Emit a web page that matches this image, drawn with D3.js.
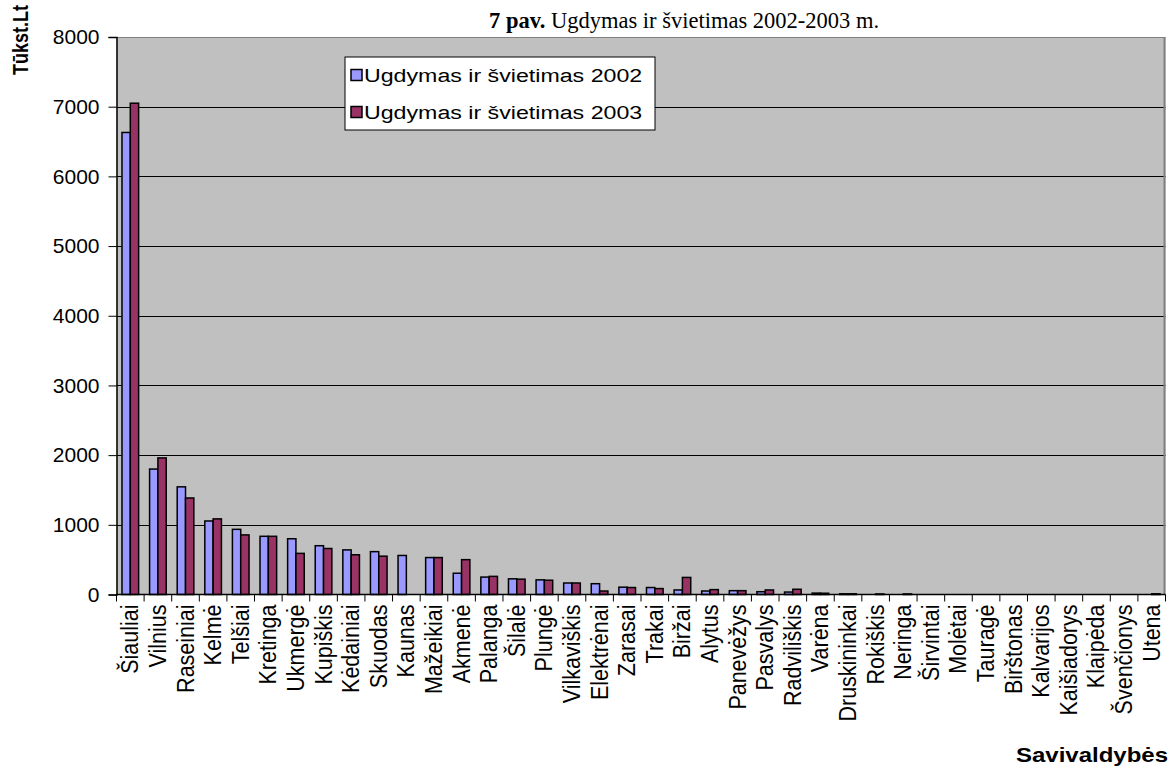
<!DOCTYPE html>
<html>
<head>
<meta charset="utf-8">
<script src="https://cdn.jsdelivr.net/npm/d3@7"></script>
<style>
  html, body { margin: 0; padding: 0; background: #fff; }
  svg { display: block; }
</style>
</head>
<body>
<svg id="chart" width="1176" height="770"></svg>
<script>
// Municipalities, in chart order
const categories = ["Šiauliai","Vilnius","Raseiniai","Kelmė","Telšiai","Kretinga","Ukmergė","Kupiškis","Kėdainiai","Skuodas","Kaunas","Mažeikiai","Akmenė","Palanga","Šilalė","Plungė","Vilkaviškis","Elektrėnai","Zarasai","Trakai","Biržai","Alytus","Panevėžys","Pasvalys","Radviliškis","Varėna","Druskininkai","Rokiškis","Neringa","Širvintai","Molėtai","Tauragė","Birštonas","Kalvarijos","Kaišiadorys","Klaipėda","Švenčionys","Utena"];

// Education spending, thousand Lt
const values2002 = [6630,1800,1545,1055,935,835,800,700,640,615,560,530,305,250,225,210,165,155,105,100,65,50,55,40,35,20,10,0,0,0,0,0,0,0,0,0,0,0];
const values2003 = [7050,1960,1385,1085,855,835,590,660,570,550,0,530,500,260,220,205,165,50,100,85,245,70,55,65,75,18,10,8,8,0,0,0,0,0,0,0,0,10];

const seriesNames = ["Ugdymas ir švietimas 2002", "Ugdymas ir švietimas 2003"];
const seriesColors = ["#9999FF", "#993366"];
const yTicks = [0,1000,2000,3000,4000,5000,6000,7000,8000];

const sans = "Liberation Sans, Arial, sans-serif";
const textStretch = 1.2;   // text in this chart is set slightly wide
const svg = d3.select("#chart");
const plot = { left: 116.5, right: 1165.5, top: 37, bottom: 594.5 };

const x0 = d3.scaleBand().domain(categories).range([plot.left, plot.right]).padding(0);
const x1 = d3.scaleBand().domain([0, 1]).range([0, x0.bandwidth()]).paddingInner(0).paddingOuter(0.66);
const y = d3.scaleLinear().domain([0, 8000]).range([plot.bottom, plot.top]);

// plot background
svg.append("rect")
  .attr("x", plot.left).attr("y", plot.top)
  .attr("width", plot.right - plot.left).attr("height", plot.bottom - plot.top)
  .attr("fill", "#C0C0C0");

// horizontal gridlines
svg.append("g").selectAll("line")
  .data(yTicks.filter(d => d > 0))
  .join("line")
  .attr("x1", plot.left).attr("x2", plot.right)
  .attr("y1", d => Math.round(y(d)) + 0.5).attr("y2", d => Math.round(y(d)) + 0.5)
  .attr("stroke", d => d === 8000 ? "#808080" : "#000")
  .attr("stroke-width", 1);

// right border
svg.append("line")
  .attr("x1", plot.right - 1).attr("x2", plot.right - 1)
  .attr("y1", plot.top).attr("y2", plot.bottom)
  .attr("stroke", "#808080").attr("stroke-width", 2);

// bars
const rows = categories.map((c, i) => ({ cat: c, vals: [values2002[i], values2003[i]] }));
const groups = svg.append("g").selectAll("g")
  .data(rows).join("g")
  .attr("transform", d => `translate(${x0(d.cat)},0)`);
groups.selectAll("rect")
  .data(d => d.vals.map((v, k) => ({ v, k })).filter(e => e.v > 0))
  .join("rect")
  .attr("x", e => x1(e.k))
  .attr("y", e => y(e.v))
  .attr("width", x1.bandwidth())
  .attr("height", e => y(0) - y(e.v))
  .attr("fill", e => seriesColors[e.k])
  .attr("stroke", "#000")
  .attr("stroke-width", 1.5);

// y axis
const yAxis = d3.axisLeft(y).tickValues(yTicks).tickSize(8).tickPadding(9).tickFormat(d3.format("d"));
const gy = svg.append("g").attr("transform", `translate(${plot.left},0)`).call(yAxis);
gy.select(".domain").attr("stroke", "#000").attr("stroke-width", 1.5);
gy.selectAll(".tick line").attr("stroke", "#000");
gy.selectAll(".tick text")
  .attr("font-family", sans)
  .attr("font-size", 21).attr("fill", "#000");

// x axis: ticks at category boundaries
const gx = svg.append("g").attr("transform", `translate(0,${plot.bottom})`);
gx.append("line")
  .attr("x1", plot.left).attr("x2", plot.right)
  .attr("stroke", "#000").attr("stroke-width", 1.5);
const boundaries = categories.map(c => x0(c)).concat([plot.right]);
gx.selectAll("line.tick")
  .data(boundaries).join("line").attr("class", "tick")
  .attr("x1", d => d).attr("x2", d => d)
  .attr("y1", 0).attr("y2", 7)
  .attr("stroke", "#000");
gx.selectAll("text")
  .data(categories).join("text")
  .attr("transform", d => `translate(${x0(d) + x0.bandwidth() / 2 + 8},10) rotate(-90) scale(1,1.15)`)
  .attr("text-anchor", "end")
  .attr("font-family", sans)
  .attr("font-size", 21.5)
  .attr("fill", "#000")
  .text(d => d);

// chart title
const title = svg.append("text")
  .attr("x", 489).attr("y", 28)
  .attr("font-family", "Liberation Serif, Times New Roman, serif")
  .attr("font-size", 22.5).attr("fill", "#000");
title.append("tspan").attr("font-weight", "bold").text("7 pav.");
title.append("tspan").text(" Ugdymas ir švietimas 2002-2003 m.");

// axis titles
svg.append("text")
  .attr("transform", `translate(28,40) rotate(-90) scale(1,${textStretch})`)
  .attr("text-anchor", "middle")
  .attr("font-family", sans)
  .attr("font-weight", "bold").attr("font-size", 18).attr("fill", "#000")
  .text("Tūkst.Lt");

svg.append("text")
  .attr("transform", `translate(1168,762) scale(${textStretch},1)`)
  .attr("text-anchor", "end")
  .attr("font-family", sans)
  .attr("font-weight", "bold").attr("font-size", 20).attr("fill", "#000")
  .text("Savivaldybės");

// legend
const legend = svg.append("g").attr("transform", "translate(345,57)");
legend.append("rect")
  .attr("width", 310).attr("height", 73)
  .attr("fill", "#fff").attr("stroke", "#000").attr("stroke-width", 1);
const items = legend.selectAll("g.item")
  .data(seriesNames).join("g").attr("class", "item")
  .attr("transform", (d, i) => `translate(6,${18 + i * 37})`);
items.append("rect")
  .attr("x", 0).attr("y", -5.5).attr("width", 11).attr("height", 11)
  .attr("fill", (d, i) => seriesColors[i]).attr("stroke", "#000").attr("stroke-width", 1.5);
items.append("text")
  .attr("transform", `translate(13,6.5) scale(1.22,1)`)
  .attr("font-family", sans)
  .attr("font-size", 19).attr("fill", "#000")
  .text(d => d);
</script>
</body>
</html>
